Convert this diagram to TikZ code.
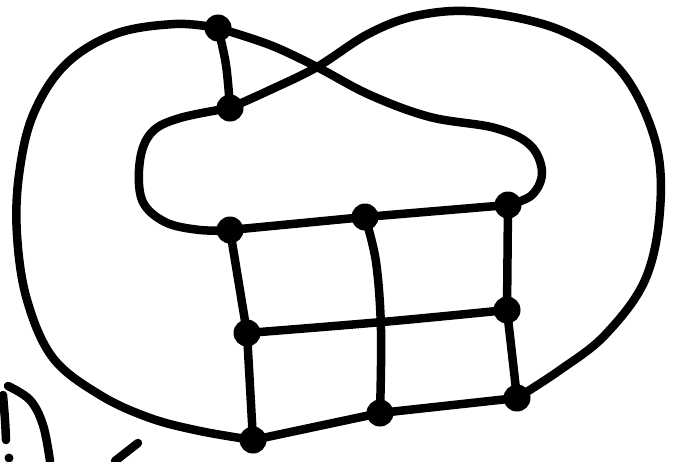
\documentclass[tikz,border=0pt]{standalone}
\begin{document}
\begin{tikzpicture}[x=1pt,y=-1pt,
  edge/.style={line width=8.5pt,line cap=round,line join=round},
  dot/.style={circle,fill=black,inner sep=0pt,minimum size=27pt}]
\useasboundingbox (0,0) rectangle (676,461);
% node positions
\coordinate (A) at (218,28);
\coordinate (B) at (230,108);
\coordinate (C) at (230,230);
\coordinate (D) at (365,217);
\coordinate (E) at (508,205);
\coordinate (F) at (247,333);
\coordinate (G) at (507,310);
\coordinate (H) at (253,440);
\coordinate (I) at (380,413);
\coordinate (J) at (517,398);
% big left loop
\draw[edge] plot[smooth,tension=0.6] coordinates {(A) (175,24) (115,34) (65,65) (33,115) (19,175) (17,235) (27,300) (53,358) (100,395) (150,418) (200,431) (H)};
% inner loop
\draw[edge] plot[smooth,tension=0.6] coordinates {(B) (180,118) (152,132) (140,160) (142,200) (165,222) (200,230) (C)};
% A-B
\draw[edge] plot[smooth,tension=0.6] coordinates {(A) (226,65) (B)};
% from B across to the big right loop
\draw[edge] plot[smooth,tension=0.6] coordinates {(B) (270,90) (317,67) (370,33) (420,15) (480,12) (560,30) (620,70) (655,140) (660,210) (645,280) (605,335) (560,370) (J)};
% from A across to E
\draw[edge] plot[smooth,tension=0.6] coordinates {(A) (270,45) (317,67) (370,95) (430,117) (495,128) (530,145) (542,172) (532,195) (E)};
% grid rows
\draw[edge] (C) -- (D) -- (E);
\draw[edge] plot[smooth,tension=0.6] coordinates {(F) (382,322) (G)};
\draw[edge] (H) -- (I) -- (J);
% grid columns
\draw[edge] (C) -- (F) -- (H);
\draw[edge] plot[smooth,tension=0.6] coordinates {(D) (376,262) (381,330) (I)};
\draw[edge] (E) -- (G) -- (J);
% dots
\foreach \n in {A,B,C,D,E,F,G,H,I,J} \node[dot] (d\n) at (\n) {};
% stray strokes at bottom left
\draw[edge] plot[smooth] coordinates {(3,395) (5,420) (6,440)};
\fill (9,458) circle (4.5pt);
\draw[edge] plot[smooth,tension=0.6] coordinates {(8,386) (30,400) (43,425) (50,461)};
\draw[edge] (138,443) -- (115,461);
\end{tikzpicture}
\end{document}
